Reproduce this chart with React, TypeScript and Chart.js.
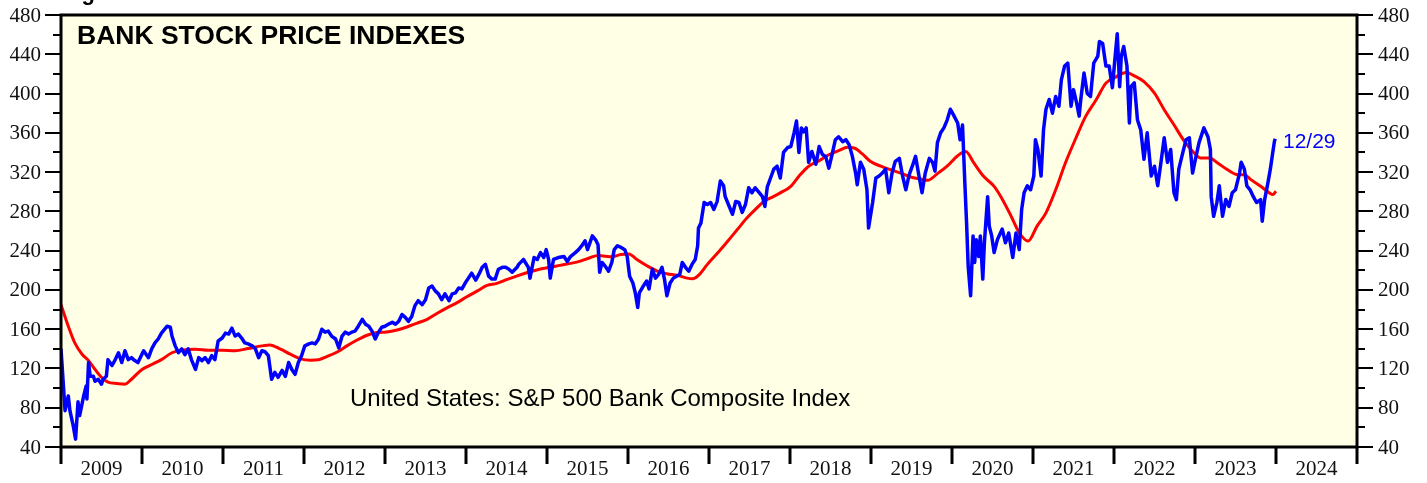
import React, { useEffect, useRef } from "react";
import { Chart, registerables } from "chart.js";

Chart.register(...registerables);

const yearLabels = ["2009","2010","2011","2012","2013","2014","2015","2016","2017","2018","2019","2020","2021","2022","2023","2024"];
const yTickValues = [40, 80, 120, 160, 200, 240, 280, 320, 360, 400, 440, 480];

const blueYears = [
2009.00,2009.05,2009.09,2009.11,2009.15,2009.18,2009.21,2009.23,2009.28,2009.31,2009.32,2009.34,2009.36,2009.40,2009.42,2009.46,2009.50,2009.52,2009.56,2009.58,2009.63,2009.67,2009.71,2009.75,2009.79,2009.83,2009.87,2009.91,2009.95,
2010.02,2010.08,2010.12,2010.16,2010.20,2010.24,2010.31,2010.35,2010.37,2010.41,2010.45,2010.49,2010.53,2010.57,2010.61,2010.66,2010.70,2010.74,2010.78,2010.82,2010.86,2010.90,2010.94,2010.99,
2011.03,2011.07,2011.11,2011.15,2011.19,2011.23,2011.27,2011.31,2011.36,2011.40,2011.44,2011.48,2011.52,2011.56,2011.60,2011.64,2011.68,2011.73,2011.77,2011.81,2011.85,2011.89,2011.93,2011.97,
2012.01,2012.06,2012.10,2012.14,2012.18,2012.22,2012.26,2012.30,2012.34,2012.39,2012.43,2012.47,2012.51,2012.55,2012.59,2012.63,2012.67,2012.72,2012.76,2012.80,2012.84,2012.88,2012.92,2012.96,
2013.00,2013.04,2013.09,2013.13,2013.17,2013.21,2013.25,2013.29,2013.33,2013.37,2013.41,2013.46,2013.50,2013.54,2013.58,2013.62,2013.66,2013.70,2013.74,2013.79,2013.83,2013.87,2013.91,2013.95,2013.99,
2014.03,2014.07,2014.12,2014.16,2014.20,2014.24,2014.28,2014.32,2014.36,2014.40,2014.45,2014.49,2014.53,2014.57,2014.63,2014.65,2014.71,2014.77,2014.79,2014.84,2014.88,2014.92,2014.96,2014.99,
2015.02,2015.04,2015.08,2015.14,2015.21,2015.25,2015.29,2015.35,2015.39,2015.43,2015.47,2015.50,2015.56,2015.60,2015.63,2015.65,2015.68,2015.72,2015.76,2015.80,2015.83,2015.87,2015.92,2015.96,2015.99,
2016.02,2016.06,2016.09,2016.12,2016.14,2016.19,2016.23,2016.26,2016.30,2016.34,2016.38,2016.42,2016.45,2016.48,2016.52,2016.56,2016.60,2016.64,2016.67,2016.71,2016.75,2016.79,2016.83,2016.86,2016.87,2016.90,2016.94,2016.98,
2017.02,2017.06,2017.10,2017.14,2017.18,2017.20,2017.24,2017.29,2017.33,2017.37,2017.41,2017.45,2017.49,2017.53,2017.57,2017.62,2017.66,2017.69,2017.72,2017.76,2017.80,2017.84,2017.88,2017.92,2017.97,
2018.01,2018.05,2018.08,2018.11,2018.14,2018.17,2018.20,2018.23,2018.27,2018.32,2018.36,2018.40,2018.44,2018.48,2018.52,2018.56,2018.60,2018.65,2018.69,2018.73,2018.77,2018.81,2018.83,2018.87,2018.91,2018.95,2018.97,
2019.02,2019.06,2019.10,2019.14,2019.18,2019.22,2019.26,2019.30,2019.35,2019.39,2019.43,2019.47,2019.51,2019.55,2019.59,2019.63,2019.67,2019.72,2019.76,2019.79,2019.82,2019.86,2019.90,2019.94,2019.98,
2020.02,2020.07,2020.10,2020.13,2020.16,2020.18,2020.20,2020.22,2020.23,2020.26,2020.28,2020.30,2020.33,2020.35,2020.38,2020.40,2020.44,2020.46,2020.49,2020.52,2020.56,2020.62,2020.66,2020.70,2020.75,2020.79,2020.83,2020.86,2020.89,2020.93,2020.97,
2021.01,2021.03,2021.06,2021.10,2021.13,2021.16,2021.20,2021.24,2021.28,2021.32,2021.35,2021.39,2021.43,2021.47,2021.50,2021.54,2021.57,2021.59,2021.63,2021.67,2021.71,2021.75,2021.80,2021.82,2021.86,2021.90,2021.94,2021.98,
2022.01,2022.04,2022.07,2022.09,2022.12,2022.16,2022.19,2022.21,2022.25,2022.29,2022.33,2022.37,2022.41,2022.46,2022.50,2022.54,2022.58,2022.62,2022.66,2022.70,2022.74,2022.77,2022.80,2022.85,2022.89,2022.93,2022.97,
2023.01,2023.05,2023.11,2023.16,2023.19,2023.20,2023.23,2023.27,2023.30,2023.34,2023.38,2023.42,2023.46,2023.50,2023.55,2023.57,2023.61,2023.64,2023.68,2023.72,2023.76,2023.81,2023.83,2023.86,2023.90,2023.93,2023.96,2023.98,2023.99
];
const blueValues = [
140,77,92,77,62,48,86,72,92,102,89,126,112,112,107,109,104,109,112,129,123,129,136,126,138,129,131,128,126,
138,131,140,146,150,156,163,162,153,143,136,140,134,140,129,119,131,128,131,126,133,129,148,151,
156,155,161,153,155,151,146,145,143,140,131,138,137,133,109,116,111,118,112,126,119,114,126,133,
143,145,146,145,150,160,157,158,153,150,141,153,157,155,157,158,163,170,165,163,158,150,157,162,
163,165,167,165,168,175,172,168,173,184,189,185,190,202,204,199,196,190,196,189,196,197,202,201,207,
212,217,210,216,223,226,214,211,211,221,223,223,221,218,223,226,231,223,212,233,231,238,233,241,
231,212,231,233,234,229,234,238,241,245,250,241,255,251,246,218,228,224,219,228,241,245,243,241,234,
214,207,197,182,197,204,209,201,221,212,216,223,211,194,207,212,214,216,228,223,219,226,231,245,263,268,289,287,
289,282,290,311,306,295,287,277,290,289,279,287,304,299,304,299,295,285,305,314,323,326,314,340,345,
346,360,372,340,365,361,365,330,341,328,346,338,336,324,338,353,356,351,353,348,336,319,307,330,323,302,263,
289,314,316,319,323,299,319,331,334,316,302,317,326,336,317,299,319,334,330,321,350,360,365,373,384,
378,370,353,368,306,268,224,204,194,255,228,251,234,255,211,248,295,265,255,238,251,262,248,258,233,258,241,282,299,306,302,
316,353,343,316,363,384,394,380,397,387,414,428,431,387,404,390,377,394,421,400,397,431,438,453,451,428,428,406,
434,461,407,438,448,428,370,407,411,373,363,333,360,316,326,306,330,355,330,343,299,292,323,340,353,355,319,
335,350,365,356,343,295,275,289,306,275,292,285,299,302,319,330,323,306,302,295,289,292,270,292,309,323,340,351,354
];

const redYears = [
2009.00,2009.09,2009.17,2009.26,2009.34,2009.42,2009.50,2009.58,2009.69,2009.79,2009.87,
2010.00,2010.12,2010.24,2010.37,2010.49,2010.66,2010.82,2010.99,
2011.15,2011.31,2011.48,2011.58,2011.71,2011.83,2011.95,
2012.08,2012.18,2012.28,2012.41,2012.53,2012.65,2012.78,2012.90,
2013.02,2013.15,2013.27,2013.39,2013.52,2013.64,2013.77,2013.89,
2014.01,2014.14,2014.26,2014.38,2014.51,2014.65,2014.79,2014.92,
2015.04,2015.16,2015.29,2015.41,2015.53,2015.63,2015.72,2015.80,2015.91,
2016.01,2016.11,2016.24,2016.36,2016.48,2016.61,2016.73,2016.80,2016.87,2016.98,
2017.10,2017.22,2017.35,2017.47,2017.57,2017.68,2017.76,2017.88,
2018.01,2018.11,2018.23,2018.36,2018.48,2018.60,2018.71,2018.79,2018.89,2018.99,
2019.12,2019.24,2019.37,2019.49,2019.61,2019.70,2019.82,2019.94,
2020.07,2020.17,2020.27,2020.39,2020.52,2020.60,2020.72,2020.83,2020.94,
2021.05,2021.16,2021.28,2021.40,2021.53,2021.65,2021.78,2021.90,
2022.02,2022.15,2022.25,2022.37,2022.50,2022.62,2022.74,2022.87,2022.99,
2023.07,2023.18,2023.28,2023.40,2023.53,2023.61,2023.69,2023.81,2023.92,2023.96,2024.00
];
const redValues = [
185,163,146,134.5,128,119,111,106,104.7,104,109,
119,124,129,136,138.6,139.6,138.6,138.6,
138,140.3,143,144,139.6,134.5,130,
128.4,128.8,132,136.8,143,148.7,153.8,156.6,
157.2,159.2,162.2,166,170,176,182,187,
193,199,204.6,206.7,210.7,214.8,218.5,221.3,
223,225,227,229.3,232.8,235,234.4,233.7,236,
236.7,231,224.3,219.2,216.5,214.8,212,211.4,214.8,226,
237,248.6,261.5,273.4,281.8,290.3,293.7,298.8,
305.5,315.7,326,331.6,337.7,341.8,345.2,344.5,338.8,331,
326,322.5,319,315,313,311.6,318.4,326,
336.7,341,329.3,315.7,305.5,295.4,276.8,258.2,249.7,
265,278.5,302,329.3,354.7,376.7,393.6,410.6,
416.7,421.4,418,412.2,400.4,383.5,368.2,351.3,339.5,
334.3,334.3,329.3,322.5,317.4,317.4,312.3,305.5,298.8,297.1,300.5
];

const X_MIN = 2009;
const X_MAX = 2025;
const Y_MIN = 40;
const Y_MAX = 480;

const decorPlugin = {
  id: "decor",
  beforeDraw(chart: any) {
    const { ctx, chartArea } = chart;
    ctx.save();
    ctx.fillStyle = "#FFFFE6";
    ctx.fillRect(chartArea.left, chartArea.top, chartArea.right - chartArea.left, chartArea.bottom - chartArea.top);
    ctx.restore();
  },
  afterDraw(chart: any) {
    const { ctx, chartArea, scales } = chart;
    const xs = scales.x;
    const ys = scales.y;
    const L = chartArea.left, R = chartArea.right, T = chartArea.top, B = chartArea.bottom;
    ctx.save();
    ctx.strokeStyle = "#000";
    ctx.fillStyle = "#000";
    ctx.lineWidth = 2;
    for (let v = Y_MIN; v <= Y_MAX; v += 20) {
      const y = Math.round(ys.getPixelForValue(v));
      const major = (v % 40) === 0;
      const len = major ? 16 : 8;
      ctx.beginPath();
      ctx.moveTo(L - len, y);
      ctx.lineTo(L, y);
      ctx.moveTo(R, y);
      ctx.lineTo(R + len, y);
      ctx.stroke();
    }
    ctx.lineWidth = 3;
    for (let yr = X_MIN; yr <= X_MAX; yr++) {
      const x = Math.round(xs.getPixelForValue(yr));
      ctx.beginPath();
      ctx.moveTo(x, B);
      ctx.lineTo(x, B + 17);
      ctx.stroke();
    }
    ctx.lineWidth = 3;
    ctx.strokeRect(L, T, R - L, B - T);
    ctx.font = "21px 'Liberation Serif', serif";
    ctx.fillStyle = "#111";
    ctx.textBaseline = "middle";
    yTickValues.forEach((v) => {
      const y = ys.getPixelForValue(v);
      ctx.textAlign = "right";
      ctx.fillText(String(v), L - 20, y + 1);
      ctx.textAlign = "left";
      ctx.fillText(String(v), R + 21, y + 1);
    });
    ctx.textAlign = "center";
    yearLabels.forEach((lab, i) => {
      const x = xs.getPixelForValue(X_MIN + i + 0.5);
      ctx.fillText(lab, x, B + 22);
    });
    ctx.fillStyle = "#000";
    ctx.textAlign = "left";
    ctx.textBaseline = "alphabetic";
    ctx.font = "bold 26.5px 'Liberation Sans', Arial, sans-serif";
    ctx.fillText("BANK STOCK PRICE INDEXES", L + 16, T + 29);
    ctx.font = "bold 22px 'Liberation Sans', Arial, sans-serif";
    ctx.fillText("Figure 1.", 62, 0);
    ctx.font = "24px 'Liberation Sans', Arial, sans-serif";
    ctx.textBaseline = "middle";
    ctx.fillText("United States: S&P 500 Bank Composite Index", 350, 399);
    ctx.fillStyle = "#0000FF";
    ctx.font = "21px 'Liberation Sans', Arial, sans-serif";
    ctx.fillText("12/29", 1283, 142);
    ctx.restore();
  },
};

export default function App() {
  const ref = useRef<HTMLCanvasElement | null>(null);
  useEffect(() => {
    if (!ref.current) return;
    const blue = blueYears.map((x, i) => ({ x, y: blueValues[i] }));
    const red = redYears.map((x, i) => ({ x, y: redValues[i] }));
    const chart = new Chart(ref.current, {
      type: "line",
      data: {
        datasets: [
          {
            label: "S&P 500 Bank Composite Index",
            data: blue,
            borderColor: "#0000FF",
            borderWidth: 3.5,
            pointRadius: 0,
            tension: 0,
            borderJoinStyle: "round",
          },
          {
            label: "Moving average",
            data: red,
            borderColor: "#FF0000",
            borderWidth: 3,
            pointRadius: 0,
            cubicInterpolationMode: "monotone",
          },
        ],
      },
      options: {
        responsive: false,
        animation: false,
        devicePixelRatio: 1,
        layout: { padding: { left: 61, right: 70, top: 15, bottom: 36 } },
        plugins: { legend: { display: false }, tooltip: { enabled: false }, title: { display: false } },
        scales: {
          x: { type: "linear", min: X_MIN, max: X_MAX, display: false },
          y: { type: "linear", min: Y_MIN, max: Y_MAX, display: false },
        },
      },
      plugins: [decorPlugin],
    });
    return () => chart.destroy();
  }, []);
  return (
    <div style={{ position: "absolute", left: 0, top: 0, width: 1427, height: 483, background: "#fff" }}>
      <canvas ref={ref} width={1427} height={483} style={{ display: "block" }} />
    </div>
  );
}
